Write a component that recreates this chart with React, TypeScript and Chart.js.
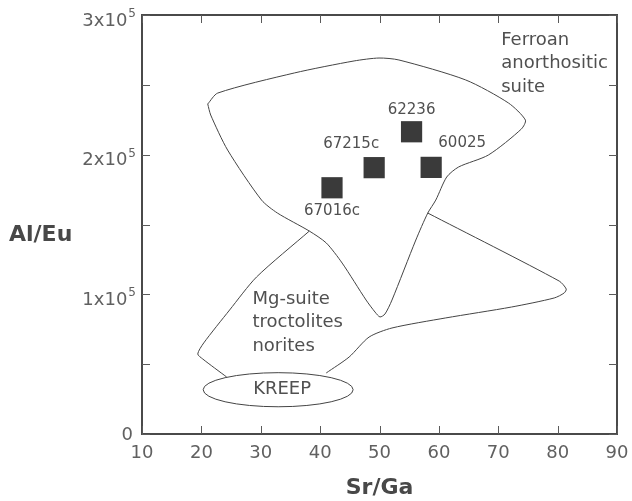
import React, { useEffect, useRef } from "react";
import { Chart, registerables } from "chart.js";

Chart.register(...registerables);

// ---- axes ----
const X_MIN = 10;
const X_MAX = 90;
const Y_MIN = 0;
const Y_MAX = 300000;
const X_TICKS = [10, 20, 30, 40, 50, 60, 70, 80, 90];
const Y_TICKS = [0, 50000, 100000, 150000, 200000, 250000, 300000];
const Y_LABEL_VALUES = [0, 100000, 200000, 300000];
const Y_LABEL_BASE = ["0", "1x10", "2x10", "3x10"];
const Y_LABEL_EXP = ["", "5", "5", "5"];
const X_TITLE = "Sr/Ga";
const Y_TITLE = "Al/Eu";

// ---- samples ----
const SAMPLE_NAMES = ["67016c", "67215c", "62236", "60025"];
const SAMPLE_SR_GA = [42.0, 49.1, 55.4, 58.7];
const SAMPLE_AL_EU = [176300, 190700, 216400, 190900];

// ---- Ferroan anorthositic suite field (closed) ----
const FERROAN_X = [21.07, 22.75, 35.66, 45.72, 49.92, 53.27, 64.51, 71.72, 74.57, 73.9, 68.36, 63.33, 61.32, 59.48, 58.13, 56.12, 52.1, 50.92, 50.08, 49.25, 47.74, 43.71, 41.03, 38.18, 32.81, 30.13, 24.42, 21.57];
const FERROAN_Y = [236300, 244100, 258500, 267100, 269200, 267800, 253500, 237000, 224800, 218400, 199800, 191200, 184000, 167500, 158200, 138900, 95900, 85900, 83800, 87300, 95900, 122400, 136800, 145300, 158200, 167500, 203300, 228400];

// ---- Mg-suite field (two open arcs ending on the KREEP ellipse) ----
const MG_LEFT_X = [38.18, 29.29, 24.76, 20.4, 19.39, 20.23, 24.26];
const MG_LEFT_Y = [145300, 112400, 88800, 65200, 57300, 53700, 40800];
const MG_RIGHT_X = [41.03, 44.88, 48.24, 52.1, 61.15, 72.22, 79.43, 81.11, 81.45, 80.27, 58.13];
const MG_RIGHT_Y = [43700, 55100, 69400, 75900, 83100, 90900, 97400, 101000, 103800, 109500, 158200];

// ---- KREEP ellipse ----
const KREEP_CENTER_X = 32.93;
const KREEP_CENTER_Y = 31700;
const KREEP_RADIUS_X = 12.63;
const KREEP_RADIUS_Y = 12200;

// ---- field labels ----
const FIELD_LABEL_LINES = [["Ferroan", "anorthositic", "suite"], ["Mg-suite", "troctolites", "norites"], ["KREEP"]];
const FIELD_LABEL_X = [70.5, 28.6, 33.6];
const FIELD_LABEL_Y = [282100, 96700, 32200];

// ---- styles / layout (not data) ----
const FONT = "'DejaVu Sans', sans-serif";
const SAMPLE_LABEL_OFFSETS: [number, number][] = [[0, 23], [-23, -24], [0, -22], [31, -24]];
const FIELD_LABEL_ALIGN: CanvasTextAlign[] = ["left", "left", "center"];
const LINE_COLOR = "#444";
const TEXT_COLOR = "#505050";
const TICK_COLOR = "#5a5a5a";

const pts = (xs: number[], ys: number[]) => xs.map((x, i) => ({ x, y: ys[i] }));

const decorPlugin = {
  id: "decor",
  afterDatasetsDraw(chart: any) {
    const { ctx, chartArea: a } = chart;
    const xs = chart.scales.x;
    const ys = chart.scales.y;
    ctx.save();

    // KREEP ellipse
    const cx = xs.getPixelForValue(KREEP_CENTER_X);
    const cy = ys.getPixelForValue(KREEP_CENTER_Y);
    const rx = Math.abs(xs.getPixelForValue(KREEP_CENTER_X + KREEP_RADIUS_X) - cx);
    const ry = Math.abs(ys.getPixelForValue(KREEP_CENTER_Y + KREEP_RADIUS_Y) - cy);
    ctx.beginPath();
    ctx.ellipse(cx, cy, rx, ry, 0, 0, Math.PI * 2);
    ctx.strokeStyle = LINE_COLOR;
    ctx.lineWidth = 1;
    ctx.stroke();

    // frame
    ctx.strokeStyle = "#4a4a4a";
    ctx.lineWidth = 2;
    ctx.strokeRect(a.left, a.top, a.right - a.left, a.bottom - a.top);

    // inward ticks on all sides
    ctx.strokeStyle = TICK_COLOR;
    ctx.lineWidth = 1;
    const TL = 8;
    ctx.beginPath();
    X_TICKS.forEach((v) => {
      const px = Math.round(xs.getPixelForValue(v)) + 0.5;
      ctx.moveTo(px, a.bottom);
      ctx.lineTo(px, a.bottom - TL);
      ctx.moveTo(px, a.top);
      ctx.lineTo(px, a.top + TL);
    });
    Y_TICKS.forEach((v) => {
      const py = Math.round(ys.getPixelForValue(v)) + 0.5;
      ctx.moveTo(a.left, py);
      ctx.lineTo(a.left + TL, py);
      ctx.moveTo(a.right, py);
      ctx.lineTo(a.right - TL, py);
    });
    ctx.stroke();

    // y tick labels with superscript
    ctx.fillStyle = "#606060";
    ctx.textBaseline = "middle";
    Y_LABEL_VALUES.forEach((v, i) => {
      const py = ys.getPixelForValue(v);
      const exp = Y_LABEL_EXP[i];
      ctx.font = `12px ${FONT}`;
      const ew = exp ? ctx.measureText(exp).width : 0;
      const right = a.left - 6;
      if (exp) {
        ctx.textAlign = "right";
        ctx.fillText(exp, right, py - 1);
      }
      ctx.font = `18px ${FONT}`;
      ctx.textAlign = "right";
      ctx.fillText(Y_LABEL_BASE[i], right - ew - (exp ? 1 : 3), py + (exp ? 6 : 1));
    });

    // sample labels
    ctx.fillStyle = TEXT_COLOR;
    ctx.font = `15px ${FONT}`;
    ctx.textAlign = "center";
    SAMPLE_NAMES.forEach((name, i) => {
      const px = xs.getPixelForValue(SAMPLE_SR_GA[i]);
      const py = ys.getPixelForValue(SAMPLE_AL_EU[i]);
      const [dx, dy] = SAMPLE_LABEL_OFFSETS[i];
      ctx.fillText(name, px + dx, py + dy);
    });

    // field labels
    ctx.font = `18px ${FONT}`;
    FIELD_LABEL_LINES.forEach((lines, i) => {
      const px = xs.getPixelForValue(FIELD_LABEL_X[i]);
      const py = ys.getPixelForValue(FIELD_LABEL_Y[i]);
      ctx.textAlign = FIELD_LABEL_ALIGN[i];
      lines.forEach((line, j) => ctx.fillText(line, px, py + j * 23.5));
    });

    // axis titles
    ctx.fillStyle = "#484848";
    ctx.font = `bold 22px ${FONT}`;
    ctx.textAlign = "center";
    ctx.fillText(X_TITLE, (a.left + a.right) / 2, 488);
    ctx.textAlign = "left";
    ctx.fillText(Y_TITLE, 9, (a.top + a.bottom) / 2 + 11);

    ctx.restore();
  },
};

export default function App() {
  const ref = useRef<HTMLCanvasElement | null>(null);

  useEffect(() => {
    document.body.style.margin = "0";
    if (!ref.current) return;
    const outline = {
      showLine: true,
      pointRadius: 0,
      borderColor: LINE_COLOR,
      borderWidth: 1,
      tension: 0.25,
      fill: false,
    };
    const ferroan = pts(FERROAN_X, FERROAN_Y);
    const chart = new Chart(ref.current, {
      type: "scatter",
      data: {
        datasets: [
          { ...outline, label: "Ferroan anorthositic suite", data: [...ferroan, ferroan[0]] } as any,
          { ...outline, label: "Mg-suite (left)", data: pts(MG_LEFT_X, MG_LEFT_Y) } as any,
          { ...outline, label: "Mg-suite (right)", data: pts(MG_RIGHT_X, MG_RIGHT_Y) } as any,
          {
            label: "Samples",
            data: pts(SAMPLE_SR_GA, SAMPLE_AL_EU),
            pointStyle: "rect",
            pointRadius: 15,
            pointBackgroundColor: "#3a3a3a",
            pointBorderWidth: 0,
            showLine: false,
          } as any,
        ],
      },
      options: {
        animation: false,
        responsive: false,
        layout: { padding: { top: 15, right: 13, left: 0, bottom: 0 } },
        plugins: { legend: { display: false }, tooltip: { enabled: false } },
        scales: {
          x: {
            type: "linear",
            min: X_MIN,
            max: X_MAX,
            afterBuildTicks: (s: any) => {
              s.ticks = X_TICKS.map((v) => ({ value: v }));
            },
            afterFit: (s: any) => {
              s.height = 67;
              s.paddingLeft = 0;
              s.paddingRight = 0;
            },
            grid: { display: false, drawTicks: false },
            border: { display: false },
            ticks: {
              padding: 9,
              color: "#606060",
              font: { family: FONT, size: 18 },
              maxRotation: 0,
              autoSkip: false,
              callback: (v: any) => String(v),
            },
          },
          y: {
            type: "linear",
            min: Y_MIN,
            max: Y_MAX,
            afterFit: (s: any) => {
              s.width = 142;
              s.paddingTop = 0;
              s.paddingBottom = 0;
            },
            grid: { display: false, drawTicks: false },
            border: { display: false },
            ticks: { display: false },
          },
        },
      } as any,
      plugins: [decorPlugin],
    });
    return () => chart.destroy();
  }, []);

  return <canvas ref={ref} width={632} height={501} style={{ display: "block" }} />;
}
